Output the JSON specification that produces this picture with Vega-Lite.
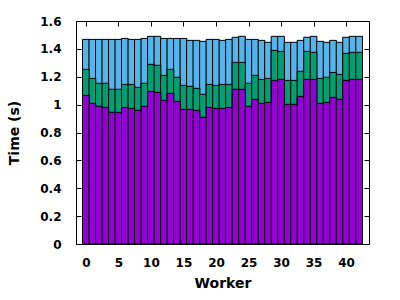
{
  "$schema": "https://vega.github.io/schema/vega-lite/v6.json",
  "autosize": {"type": "none"},
  "width": 293,
  "height": 223,
  "padding": {"left": 76, "top": 21, "right": 31, "bottom": 56},
  "background": "white",
  "config": {
    "view": {"stroke": "black", "strokeWidth": 1},
    "axis": {
      "labelFont": "DejaVu Sans", "labelFontWeight": "bold", "labelFontSize": 12, "labelColor": "black",
      "titleFont": "DejaVu Sans", "titleFontWeight": "bold", "titleFontSize": 14, "titleColor": "black",
      "grid": false, "domain": false, "tickColor": "black", "tickWidth": 1, "tickSize": -5
    }
  },
  "data": {"values": [
    {"worker": 0, "low": 1.066, "mid": 1.253, "total": 1.468},
    {"worker": 1, "low": 1.009, "mid": 1.188, "total": 1.468},
    {"worker": 2, "low": 0.988, "mid": 1.153, "total": 1.468},
    {"worker": 3, "low": 0.980, "mid": 1.153, "total": 1.468},
    {"worker": 4, "low": 0.945, "mid": 1.110, "total": 1.468},
    {"worker": 5, "low": 0.945, "mid": 1.110, "total": 1.468},
    {"worker": 6, "low": 0.980, "mid": 1.145, "total": 1.475},
    {"worker": 7, "low": 0.973, "mid": 1.145, "total": 1.468},
    {"worker": 8, "low": 0.959, "mid": 1.124, "total": 1.468},
    {"worker": 9, "low": 0.988, "mid": 1.153, "total": 1.475},
    {"worker": 10, "low": 1.095, "mid": 1.289, "total": 1.490},
    {"worker": 11, "low": 1.088, "mid": 1.282, "total": 1.490},
    {"worker": 12, "low": 1.031, "mid": 1.210, "total": 1.475},
    {"worker": 13, "low": 1.081, "mid": 1.253, "total": 1.475},
    {"worker": 14, "low": 1.023, "mid": 1.196, "total": 1.475},
    {"worker": 15, "low": 0.966, "mid": 1.138, "total": 1.475},
    {"worker": 16, "low": 0.966, "mid": 1.131, "total": 1.461},
    {"worker": 17, "low": 0.959, "mid": 1.117, "total": 1.461},
    {"worker": 18, "low": 0.909, "mid": 1.074, "total": 1.454},
    {"worker": 19, "low": 0.980, "mid": 1.145, "total": 1.468},
    {"worker": 20, "low": 0.973, "mid": 1.138, "total": 1.468},
    {"worker": 21, "low": 0.973, "mid": 1.145, "total": 1.461},
    {"worker": 22, "low": 0.980, "mid": 1.145, "total": 1.468},
    {"worker": 23, "low": 1.110, "mid": 1.303, "total": 1.483},
    {"worker": 24, "low": 1.110, "mid": 1.303, "total": 1.490},
    {"worker": 25, "low": 0.988, "mid": 1.153, "total": 1.468},
    {"worker": 26, "low": 1.038, "mid": 1.210, "total": 1.468},
    {"worker": 27, "low": 1.009, "mid": 1.181, "total": 1.461},
    {"worker": 28, "low": 1.016, "mid": 1.188, "total": 1.447},
    {"worker": 29, "low": 1.174, "mid": 1.389, "total": 1.490},
    {"worker": 30, "low": 1.181, "mid": 1.382, "total": 1.490},
    {"worker": 31, "low": 1.002, "mid": 1.174, "total": 1.447},
    {"worker": 32, "low": 1.002, "mid": 1.174, "total": 1.447},
    {"worker": 33, "low": 1.059, "mid": 1.239, "total": 1.461},
    {"worker": 34, "low": 1.181, "mid": 1.382, "total": 1.483},
    {"worker": 35, "low": 1.181, "mid": 1.375, "total": 1.490},
    {"worker": 36, "low": 1.009, "mid": 1.188, "total": 1.454},
    {"worker": 37, "low": 1.016, "mid": 1.196, "total": 1.447},
    {"worker": 38, "low": 1.052, "mid": 1.231, "total": 1.461},
    {"worker": 39, "low": 1.038, "mid": 1.217, "total": 1.447},
    {"worker": 40, "low": 1.174, "mid": 1.368, "total": 1.483},
    {"worker": 41, "low": 1.181, "mid": 1.375, "total": 1.490},
    {"worker": 42, "low": 1.181, "mid": 1.375, "total": 1.490}
  ]},
  "layer": [
    {
      "mark": {"type": "bar", "width": 6.74, "color": "#56B4E9", "stroke": "black", "strokeWidth": 1},
      "encoding": {
        "x": {"field": "worker", "type": "quantitative",
              "scale": {"domain": [-0.75, 42.75], "nice": false, "zero": false},
              "axis": {"title": "Worker", "values": [0, 5, 10, 15, 20, 25, 30, 35, 40], "labelPadding": 18, "titlePadding": 8}},
        "y": {"field": "total", "type": "quantitative",
              "scale": {"domain": [0, 1.6], "nice": false},
              "axis": {"title": "Time (s)", "values": [0, 0.2, 0.4, 0.6, 0.8, 1, 1.2, 1.4, 1.6], "format": "~g", "labelPadding": 20, "titlePadding": 18}}
      }
    },
    {
      "mark": {"type": "bar", "width": 6.74, "color": "#009E73", "stroke": "black", "strokeWidth": 1},
      "encoding": {
        "x": {"field": "worker", "type": "quantitative",
              "axis": {"orient": "top", "title": null, "labels": false, "values": [0, 5, 10, 15, 20, 25, 30, 35, 40]}},
        "y": {"field": "mid", "type": "quantitative",
              "axis": {"orient": "right", "title": null, "labels": false, "values": [0, 0.2, 0.4, 0.6, 0.8, 1, 1.2, 1.4, 1.6]}}
      }
    },
    {
      "mark": {"type": "bar", "width": 6.74, "color": "#9400D3", "stroke": "black", "strokeWidth": 1},
      "encoding": {
        "x": {"field": "worker", "type": "quantitative", "axis": null},
        "y": {"field": "low", "type": "quantitative", "axis": null}
      }
    }
  ],
  "resolve": {"axis": {"x": "independent", "y": "independent"}}
}
